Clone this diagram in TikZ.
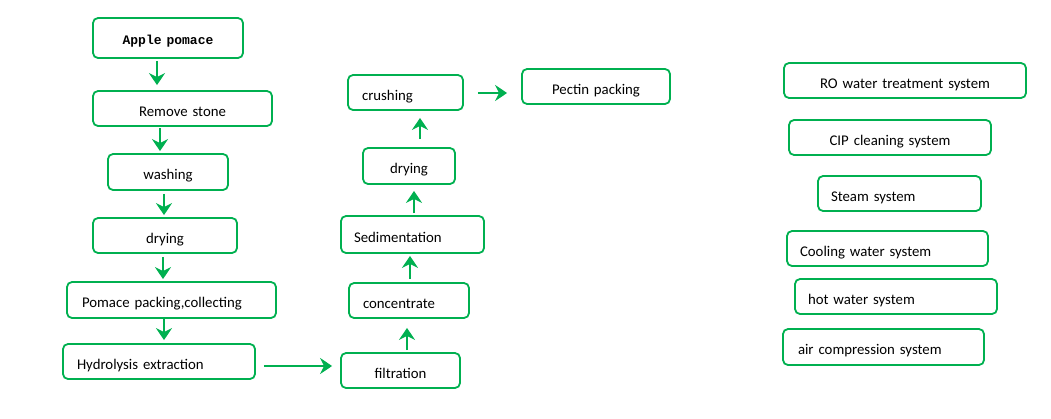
\documentclass[tikz,border=0pt]{standalone}
\usepackage{fontspec}
\setmainfont{Carlito}
\newfontfamily\applefont{Liberation Mono}
\usetikzlibrary{arrows.meta}
\definecolor{grn}{RGB}{0,176,80}
\tikzset{
  boxbase/.style={draw=grn, line width=1.8pt, rounded corners=5pt, inner ysep=0pt,
    text height=15.5pt, text depth=0pt, font=\fontsize{14.8}{17}\selectfont},
  arr/.style={draw=grn, line width=2.6pt, -{Stealth[length=12pt,width=16pt,inset=4pt]}},
}
% box: name, left, top, right, bottom, left pad, alignment, text
\newcommand{\mybox}[9][]{%
  \pgfmathsetmacro{\bw}{#5-#3}%
  \pgfmathsetmacro{\bh}{#6-#4}%
  \pgfmathsetmacro{\tw}{#5-#3-2*#7}%
  \node[boxbase, minimum height=\bh pt, text width=\tw pt, inner xsep=#7pt, align=#8, #1]
    (#2) at ({(#3+#5)/2},{(#4+#6)/2}) {#9};%
}
\begin{document}
\begin{tikzpicture}[x=1pt,y=-1pt]
\useasboundingbox (0,0) rectangle (1051,418);
% left column
\mybox[text height=12.8pt]{apple}{93}{18}{243}{58}{4}{center}{\applefont\bfseries\fontsize{13}{15}\selectfont Apple pomace}
\mybox{remove}{93}{91}{272}{126}{4}{center}{Remove stone}
\mybox{wash}{108}{154}{228}{190}{4}{center}{washing}
\mybox{dry}{93}{218}{237}{253}{4}{center}{drying}
\mybox{pack}{67}{282}{276}{318}{15}{left}{Pomace packing,collecting}
\mybox{hydro}{63}{344}{255}{379}{14}{left}{Hydrolysis extraction}
% middle column
\mybox{filt}{341}{353}{460}{388}{4}{center}{filtration}
\mybox{conc}{349}{283}{469}{318}{14}{left}{concentrate}
\mybox{sed}{341}{216}{484}{253}{13}{left}{Sedimentation}
\mybox{drytwo}{363}{148}{455}{184}{4}{center}{drying}
\mybox{crush}{348}{75}{463}{110}{14}{left}{crushing}
\mybox{pectin}{522}{69}{670}{104}{4}{center}{Pectin packing}
% right column
\mybox{ro}{784}{63}{1026}{98}{4}{center}{RO water treatment system}
\mybox{cip}{789}{120}{991}{155}{4}{center}{CIP cleaning system}
\mybox{steam}{818}{176}{981}{211}{13}{left}{Steam system}
\mybox{cool}{787}{231}{988}{266}{13}{left}{Cooling water system}
\mybox{hot}{795}{279}{997}{314}{13}{left}{hot water system}
\mybox{air}{783}{329}{984}{365}{15}{left}{air compression system}
% arrow columns
\coordinate (c1) at (157,0);
\coordinate (c2) at (160,0);
\coordinate (c3) at (164,0);
\coordinate (c4) at (163,0);
\coordinate (c5) at (164,0);
\coordinate (r6) at (0,366);
\coordinate (c7) at (407,0);
\coordinate (c8) at (410,0);
\coordinate (c9) at (414,0);
\coordinate (c10) at (420,0);
\coordinate (r11) at (0,93);
\draw[arr, shorten <=2pt, shorten >=5pt] (c1 |- apple.south) -- (c1 |- remove.north);
\draw[arr, shorten <=1pt, shorten >=2pt] (c2 |- remove.south) -- (c2 |- wash.north);
\draw[arr, shorten <=3pt, shorten >=2pt] (c3 |- wash.south) -- (c3 |- dry.north);
\draw[arr, shorten <=3pt, shorten >=2pt] (c4 |- dry.south) -- (c4 |- pack.north);
\draw[arr, shorten <=0pt, shorten >=3pt] (c5 |- pack.south) -- (c5 |- hydro.north);
\draw[arr, shorten <=8pt, shorten >=8pt] (r6 -| hydro.east) -- (r6 -| filt.west);
\draw[arr, shorten <=2pt, shorten >=9pt] (c7 |- filt.north) -- (c7 |- conc.south);
\draw[arr, shorten <=3pt, shorten >=2pt] (c8 |- conc.north) -- (c8 |- sed.south);
\draw[arr, shorten <=2pt, shorten >=6pt] (c9 |- sed.north) -- (c9 |- drytwo.south);
\draw[arr, shorten <=8pt, shorten >=7pt] (c10 |- drytwo.north) -- (c10 |- crush.south);
\draw[arr, shorten <=14pt, shorten >=14pt] (r11 -| crush.east) -- (r11 -| pectin.west);
\end{tikzpicture}
\end{document}
